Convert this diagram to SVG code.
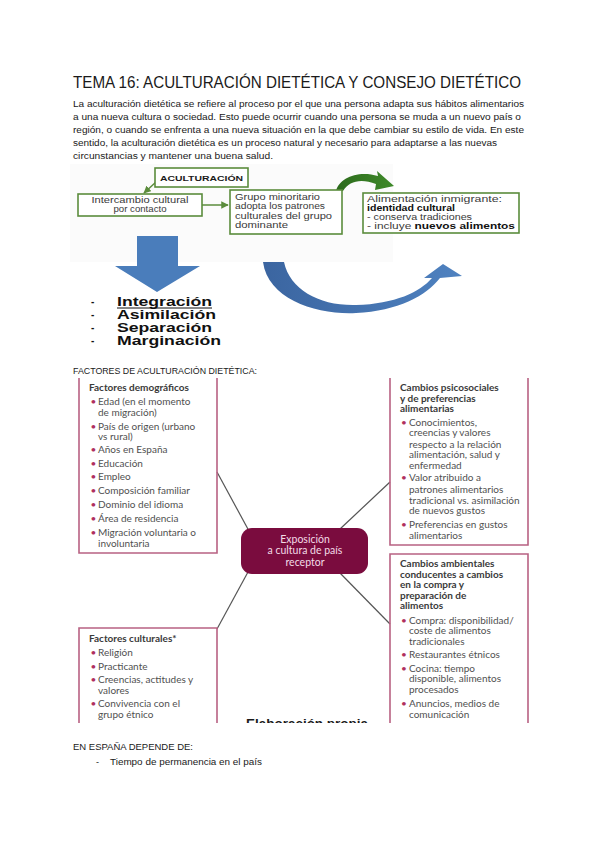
<svg xmlns="http://www.w3.org/2000/svg" width="600" height="848" viewBox="0 0 600 848">
<defs>
<style>
.t{font-family:"Liberation Sans",Arial,sans-serif;fill:#1a1a1a}
.p{font-size:9.6px}
.g{font-family:"Liberation Sans",Arial,sans-serif;font-size:8.4px;fill:#3a3a3a}
.gk{font-weight:bold;fill:#111}
.gb{fill:#fff;stroke:#5b8c3c;stroke-width:1.6}
.gl{stroke:#5b8c3c;stroke-width:1.5;fill:none}
.li{font-family:"Liberation Sans",Arial,sans-serif;font-size:12.5px;font-weight:bold;fill:#111}
.da{font-family:"Liberation Sans",Arial,sans-serif;font-size:10px;font-weight:bold;fill:#111}
.m{font-family:Lato,"Open Sans",sans-serif;font-size:10px;fill:#505050}
.mh{font-weight:bold;fill:#3a3a3a}
.mc{font-size:10.5px;fill:#f3dbe6}
.bu{font-family:Lato,"Open Sans",sans-serif;font-size:10px;fill:#b0305e}
.mb{fill:none;stroke:#b86283;stroke-width:1.6}
.cn{stroke:#555;stroke-width:1.2;fill:none}
</style>
<linearGradient id="blg" x1="0" y1="0" x2="1" y2="0">
<stop offset="0" stop-color="#3b65a0"/>
<stop offset="1" stop-color="#4f82c0"/>
</linearGradient>
<linearGradient id="grg" x1="0" y1="0" x2="1" y2="0">
<stop offset="0" stop-color="#2c6a1c"/>
<stop offset="1" stop-color="#3f8a2a"/>
</linearGradient>
<marker id="ga" viewBox="0 0 10 10" refX="9" refY="5" markerWidth="5" markerHeight="5" orient="auto">
<path d="M0 0 L10 5 L0 10 Z" fill="#5b8c3c"/>
</marker>
<clipPath id="clip"><rect x="0" y="370" width="600" height="353"/></clipPath>
</defs>

<rect width="600" height="848" fill="#fff"/>

<g id="heading">
<text class="t" x="73" y="88" font-size="17" textLength="448" lengthAdjust="spacingAndGlyphs">TEMA 16: ACULTURACIÓN DIETÉTICA Y CONSEJO DIETÉTICO</text>
<text class="t p" x="73" y="106.5" textLength="451" lengthAdjust="spacingAndGlyphs">La aculturación dietética se refiere al proceso por el que una persona adapta sus hábitos alimentarios</text>
<text class="t p" x="73" y="119.5" textLength="448" lengthAdjust="spacingAndGlyphs">a una nueva cultura o sociedad. Esto puede ocurrir cuando una persona se muda a un nuevo país o</text>
<text class="t p" x="73" y="133" textLength="451" lengthAdjust="spacingAndGlyphs">región, o cuando se enfrenta a una nueva situación en la que debe cambiar su estilo de vida. En este</text>
<text class="t p" x="73" y="146" textLength="424" lengthAdjust="spacingAndGlyphs">sentido, la aculturación dietética es un proceso natural y necesario para adaptarse a las nuevas</text>
<text class="t p" x="73" y="159" textLength="200" lengthAdjust="spacingAndGlyphs">circunstancias y mantener una buena salud.</text>
</g>

<rect x="70" y="164" width="323" height="98" fill="#fbfbfb"/>

<g id="connectors-top">
<path class="gl" d="M156 182 L144 193" marker-end="url(#ga)"/>
<path class="gl" d="M202 205 L228 205" marker-end="url(#ga)"/>
<path d="M336 191 C339 178 358 170 378 176 L377 171 L394 186 L375 190 L376 184 C361 178 349 181 343 191 Z" fill="url(#grg)"/>
<path d="M137 236 H178 V266 H200 L157 292 L115 266 H137 Z" fill="#4a7dbb"/>
<path d="M263 262 C268 300 318 315 356 313 C398 311 426 296 440 278 L462 276 L443 264 L424 278 L432 278 C420 292 395 304 356 305 C320 306 290 290 284 262 Z" fill="url(#blg)"/>
</g>

<g id="aculturacion">
<rect class="gb" x="155" y="168" width="93" height="19"/>
<text class="t" x="201.5" y="180.5" font-size="8" font-weight="bold" text-anchor="middle" textLength="83" lengthAdjust="spacingAndGlyphs">ACULTURACIÓN</text>
</g>
<g id="intercambio">
<rect class="gb" x="78" y="194" width="124" height="22"/>
<text class="g" x="140" y="203" text-anchor="middle" textLength="97" lengthAdjust="spacingAndGlyphs">Intercambio cultural</text>
<text class="g" x="140" y="212" text-anchor="middle" textLength="53" lengthAdjust="spacingAndGlyphs">por contacto</text>
</g>
<g id="grupo">
<rect class="gb" x="230" y="190" width="112" height="44"/>
<text class="g" x="235" y="199.5" textLength="85" lengthAdjust="spacingAndGlyphs">Grupo minoritario</text>
<text class="g" x="235" y="209" textLength="90" lengthAdjust="spacingAndGlyphs">adopta los patrones</text>
<text class="g" x="235" y="218.5" textLength="97" lengthAdjust="spacingAndGlyphs">culturales del grupo</text>
<text class="g" x="235" y="228" textLength="53" lengthAdjust="spacingAndGlyphs">dominante</text>
</g>
<g id="alimentacion">
<rect class="gb" x="363" y="193" width="156" height="40"/>
<text class="g" x="367" y="202" font-size="8" textLength="135" lengthAdjust="spacingAndGlyphs">Alimentación inmigrante:</text>
<text class="g gk" x="367" y="211" font-size="8" textLength="88" lengthAdjust="spacingAndGlyphs">identidad cultural</text>
<text class="g" x="367" y="220" font-size="8" textLength="105" lengthAdjust="spacingAndGlyphs">- conserva tradiciones</text>
<text class="g" x="367" y="229" font-size="8" textLength="148" lengthAdjust="spacingAndGlyphs">- incluye <tspan class="gk">nuevos alimentos</tspan></text>
</g>

<g id="list">
<text class="da" x="91" y="304.5">-</text>
<text class="li" x="117" y="305.5" textLength="95" lengthAdjust="spacingAndGlyphs">Integración</text>
<line x1="117" y1="308" x2="212" y2="308" stroke="#111" stroke-width="1"/>
<text class="da" x="91" y="317.5">-</text>
<text class="li" x="117" y="318.5" textLength="99" lengthAdjust="spacingAndGlyphs">Asimilación</text>
<text class="da" x="91" y="330.5">-</text>
<text class="li" x="117" y="331.5" textLength="95" lengthAdjust="spacingAndGlyphs">Separación</text>
<text class="da" x="91" y="343.5">-</text>
<text class="li" x="117" y="344.5" textLength="104" lengthAdjust="spacingAndGlyphs">Marginación</text>
</g>

<text class="t" x="73" y="374" font-size="9" textLength="184" lengthAdjust="spacingAndGlyphs">FACTORES DE ACULTURACIÓN DIETÉTICA:</text>

<g clip-path="url(#clip)">
<g id="connectors">
<line class="cn" x1="217" y1="472" x2="249" y2="531"/>
<line class="cn" x1="390" y1="482" x2="340" y2="529"/>
<line class="cn" x1="248" y1="572" x2="217" y2="629"/>
<line class="cn" x1="339" y1="572" x2="390" y2="624"/>
</g>

<g id="demograficos">
<path class="mb" d="M79 378 V553 H217 V378"/>
<text class="m mh" x="89" y="391">Factores demográficos</text>
<text class="bu" x="90.5" y="405">•</text><text class="m" x="98" y="405">Edad (en el momento</text>
<text class="m" x="98" y="415.5">de migración)</text>
<text class="bu" x="90.5" y="429.5">•</text><text class="m" x="98" y="429.5">País de origen (urbano</text>
<text class="m" x="98" y="440">vs rural)</text>
<text class="bu" x="90.5" y="453">•</text><text class="m" x="98" y="453">Años en España</text>
<text class="bu" x="90.5" y="466.5">•</text><text class="m" x="98" y="466.5">Educación</text>
<text class="bu" x="90.5" y="480">•</text><text class="m" x="98" y="480">Empleo</text>
<text class="bu" x="90.5" y="494">•</text><text class="m" x="98" y="494">Composición familiar</text>
<text class="bu" x="90.5" y="508">•</text><text class="m" x="98" y="508">Dominio del idioma</text>
<text class="bu" x="90.5" y="522">•</text><text class="m" x="98" y="522">Área de residencia</text>
<text class="bu" x="90.5" y="536">•</text><text class="m" x="98" y="536">Migración voluntaria o</text>
<text class="m" x="98" y="546.5">involuntaria</text>
</g>

<g id="psicosociales">
<path class="mb" d="M390 378 V545 H528 V378"/>
<text class="m mh" x="400" y="391">Cambios psicosociales</text>
<text class="m mh" x="400" y="401.5">y de preferencias</text>
<text class="m mh" x="400" y="412">alimentarias</text>
<text class="bu" x="401" y="425.5">•</text><text class="m" x="409" y="425.5">Conocimientos,</text>
<text class="m" x="409" y="436">creencias y valores</text>
<text class="m" x="409" y="447.5">respecto a la relación</text>
<text class="m" x="409" y="458">alimentación, salud y</text>
<text class="m" x="409" y="468.5">enfermedad</text>
<text class="bu" x="401" y="481">•</text><text class="m" x="409" y="481">Valor atribuido a</text>
<text class="m" x="409" y="492.5">patrones alimentarios</text>
<text class="m" x="409" y="503.5">tradicional vs. asimilación</text>
<text class="m" x="409" y="514">de nuevos gustos</text>
<text class="bu" x="401" y="527.5">•</text><text class="m" x="409" y="527.5">Preferencias en gustos</text>
<text class="m" x="409" y="538.5">alimentarios</text>
</g>

<g id="exposicion">
<rect x="241" y="528" width="127" height="46" rx="11" fill="#7a0c3e"/>
<text class="m mc" x="305" y="542.5" text-anchor="middle">Exposición</text>
<text class="m mc" x="305" y="554" text-anchor="middle">a cultura de país</text>
<text class="m mc" x="305" y="565.5" text-anchor="middle">receptor</text>
</g>

<g id="ambientales">
<path class="mb" d="M390 730 V554 H528 V730"/>
<text class="m mh" x="400" y="567">Cambios ambientales</text>
<text class="m mh" x="400" y="577.5">conducentes a cambios</text>
<text class="m mh" x="400" y="588">en la compra y</text>
<text class="m mh" x="400" y="598.5">preparación de</text>
<text class="m mh" x="400" y="609">alimentos</text>
<text class="bu" x="401" y="623.5">•</text><text class="m" x="409" y="623.5">Compra: disponibilidad/</text>
<text class="m" x="409" y="634">coste de alimentos</text>
<text class="m" x="409" y="644.5">tradicionales</text>
<text class="bu" x="401" y="658">•</text><text class="m" x="409" y="658">Restaurantes étnicos</text>
<text class="bu" x="401" y="671.5">•</text><text class="m" x="409" y="671.5">Cocina: tiempo</text>
<text class="m" x="409" y="682">disponible, alimentos</text>
<text class="m" x="409" y="692.5">procesados</text>
<text class="bu" x="401" y="707">•</text><text class="m" x="409" y="707">Anuncios, medios de</text>
<text class="m" x="409" y="717.5">comunicación</text>
</g>

<g id="culturales">
<path class="mb" d="M79 730 V628 H217 V730"/>
<text class="m mh" x="89" y="642">Factores culturales*</text>
<text class="bu" x="90.5" y="656">•</text><text class="m" x="98" y="656">Religión</text>
<text class="bu" x="90.5" y="669.5">•</text><text class="m" x="98" y="669.5">Practicante</text>
<text class="bu" x="90.5" y="683">•</text><text class="m" x="98" y="683">Creencias, actitudes y</text>
<text class="m" x="98" y="693.5">valores</text>
<text class="bu" x="90.5" y="707">•</text><text class="m" x="98" y="707">Convivencia con el</text>
<text class="m" x="98" y="717.5">grupo étnico</text>
</g>

<text class="t" x="307" y="728" font-size="13.5" font-weight="bold" text-anchor="middle" textLength="122" lengthAdjust="spacingAndGlyphs">Elaboración propia</text>
</g>

<g id="footer">
<text class="t" x="73" y="750" font-size="9" textLength="120" lengthAdjust="spacingAndGlyphs">EN ESPAÑA DEPENDE DE:</text>
<text class="t" x="96" y="765" font-size="9">-</text>
<text class="t" x="110" y="765" font-size="9" textLength="152" lengthAdjust="spacingAndGlyphs">Tiempo de permanencia en el país</text>
</g>
</svg>
